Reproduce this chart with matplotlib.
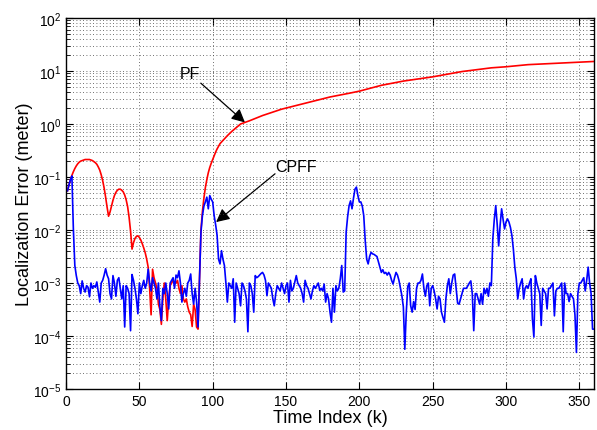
import numpy as np
import matplotlib
matplotlib.use("Agg")
import matplotlib.pyplot as plt
from matplotlib.patches import FancyArrowPatch

plt.rcParams['font.family'] = ['Liberation Sans', 'DejaVu Sans']
plt.rcParams['mathtext.fontset'] = 'custom'
plt.rcParams['mathtext.rm'] = 'Liberation Sans'

# CPFF error, log10(meter), one value per time index k = 1..360
cpff_log10 = [
    -1.26, -1.15, -1.05, -0.98, -1.98, -2.67, -2.86, -3.00, -3.05, -3.20,
    -2.96, -3.10, -3.17, -3.05, -3.08, -3.26, -3.00, -3.10, -3.05, -3.08,
    -2.98, -3.17, -3.36, -3.00, -2.95, -2.85, -2.73, -2.85, -2.92, -3.20,
    -3.30, -2.86, -3.00, -3.25, -2.95, -2.90, -3.10, -3.30, -3.05, -3.83,
    -3.05, -3.10, -3.20, -3.90, -2.84, -2.95, -3.10, -3.30, -3.58, -3.00,
    -3.20, -3.05, -2.95, -3.10, -3.00, -2.74, -3.00, -3.15, -2.90, -3.00,
    -3.10, -3.30, -3.00, -3.45, -3.71, -3.10, -3.20, -3.00, -3.20, -3.49,
    -3.00, -2.95, -2.90, -3.10, -2.85, -2.90, -2.77, -3.00, -3.36, -3.20,
    -3.10, -3.25, -3.00, -2.95, -2.83, -3.20, -3.40, -3.10, -3.35, -3.83,
    -2.92, -2.04, -1.73, -1.55, -1.47, -1.38, -1.60, -1.35, -1.42, -1.47,
    -1.73, -1.90, -2.10, -2.55, -2.64, -2.39, -2.55, -2.67, -3.00, -3.36,
    -3.00, -3.05, -3.10, -2.92, -3.74, -3.00, -3.10, -3.20, -3.43, -3.00,
    -3.05, -3.15, -3.30, -3.92, -3.00, -3.05, -3.20, -3.55, -2.86, -2.90,
    -2.88, -2.85, -2.82, -2.80, -2.85, -2.95, -3.24, -3.00, -3.05, -3.10,
    -3.30, -3.43, -3.20, -3.05, -3.10, -3.15, -3.00, -3.10, -3.20, -3.05,
    -3.00, -3.36, -2.95, -3.15, -3.10, -2.98, -2.86, -3.00, -3.05, -3.10,
    -3.20, -3.36, -2.95, -3.05, -3.10, -3.20, -3.30, -3.15, -3.05, -3.10,
    -3.05, -3.00, -3.14, -3.10, -3.15, -3.02, -3.36, -3.20, -3.30, -3.55,
    -3.74, -3.10, -3.55, -3.05, -3.15, -3.10, -2.92, -2.67, -3.17, -3.15,
    -2.04, -1.75, -1.54, -1.45, -1.60, -1.40, -1.23, -1.19, -1.35, -1.47,
    -1.47, -1.55, -1.73, -2.20, -2.55, -2.64, -2.50, -2.42, -2.45, -2.46,
    -2.48, -2.50, -2.60, -2.70, -2.80, -2.75, -2.82, -2.80, -2.85, -2.80,
    -2.85, -2.95, -3.02, -2.90, -2.80, -2.85, -2.95, -3.10, -3.24, -3.45,
    -4.25, -3.55, -3.07, -3.00, -3.43, -3.55, -3.35, -3.50, -3.10, -3.00,
    -3.00, -2.95, -2.83, -3.10, -3.25, -3.05, -3.00, -3.43, -3.10, -3.05,
    -3.15, -3.30, -3.49, -3.25, -3.30, -3.55, -3.65, -3.74, -3.30, -3.05,
    -2.92, -3.20, -3.00, -2.85, -2.83, -3.10, -3.38, -3.40, -3.30, -3.20,
    -3.10, -3.10, -3.10, -3.05, -3.00, -2.96, -3.20, -3.90, -3.20, -3.20,
    -3.30, -3.40, -3.20, -3.40, -3.10, -3.20, -3.10, -3.25, -3.00, -3.05,
    -2.17, -1.80, -1.54, -1.90, -2.30, -1.90, -1.60, -1.80, -1.98, -1.85,
    -1.79, -1.85, -1.95, -2.10, -2.36, -2.70, -2.92, -3.30, -3.10, -3.00,
    -2.92, -3.30, -3.10, -3.05, -3.10, -3.00, -2.92, -3.68, -4.02, -2.86,
    -3.00, -3.10, -3.20, -3.80, -3.10, -3.15, -3.20, -3.49, -3.10, -3.10,
    -3.05, -3.00, -3.62, -3.15, -3.10, -3.10, -3.05, -3.00, -3.92, -3.00,
    -3.20, -3.20, -3.35, -3.20, -3.25, -3.30, -3.60, -4.31, -3.20, -3.00,
    -3.00, -2.95, -2.90, -3.15, -2.95, -2.70, -3.00, -3.20, -3.87, -3.87,
]
cpff_k = np.arange(1, len(cpff_log10) + 1)

# PF error, log10(meter)
pf_k = list(range(1, 106)) + [107, 110, 113, 116, 119, 125, 134, 147, 160, 170,
                              180, 193, 200, 215, 230, 250, 270, 290, 300, 315,
                              330, 345, 360]
pf_log10 = [
    -1.26, -1.15, -1.05, -0.97, -0.90, -0.84, -0.79, -0.75, -0.72, -0.70,
    -0.69, -0.68, -0.67, -0.67, -0.67, -0.67, -0.68, -0.69, -0.71, -0.73,
    -0.76, -0.81, -0.87, -0.96, -1.07, -1.21, -1.38, -1.57, -1.74, -1.66,
    -1.55, -1.44, -1.35, -1.29, -1.25, -1.23, -1.23, -1.25, -1.28, -1.34,
    -1.43, -1.56, -1.76, -2.02, -2.36, -2.24, -2.16, -2.12, -2.11, -2.14,
    -2.19, -2.26, -2.34, -2.43, -2.55, -2.70, -3.10, -3.60, -2.74, -2.90,
    -3.00, -3.10, -3.40, -3.50, -3.78, -3.30, -3.00, -3.30, -3.71, -3.30,
    -3.05, -3.00, -2.95, -3.00, -3.00, -2.95, -3.10, -3.20, -3.05, -3.30,
    -3.36, -3.30, -3.45, -3.55, -3.60, -3.82, -3.40, -3.50, -3.83, -3.87,
    -2.90, -2.00, -1.65, -1.40, -1.20, -1.05, -0.92, -0.82, -0.74, -0.67,
    -0.60, -0.53, -0.47, -0.42, -0.37,
    -0.31, -0.22, -0.14, -0.07, 0.00, 0.06, 0.16, 0.28, 0.37, 0.44,
    0.51, 0.58, 0.62, 0.73, 0.81, 0.89, 0.99, 1.06, 1.08, 1.12,
    1.14, 1.16, 1.18,
]

fig = plt.figure(figsize=(5.97, 4.31), dpi=100)
ax = fig.add_axes([0.1106, 0.0951, 0.8844, 0.8608])

ax.semilogy(pf_k, 10.0 ** np.array(pf_log10), color='#ff0000', lw=1.2)
ax.semilogy(cpff_k, 10.0 ** np.array(cpff_log10), color='#0000ff', lw=1.2)

ax.set_xlim(0, 360)
ax.set_ylim(1e-5, 1e2)
ax.set_xticks(np.arange(0, 351, 50))

ax.grid(True, which='major', axis='both', color='0.25', linestyle=(0, (1, 3)), lw=0.6)
ax.grid(True, which='minor', axis='y', color='0.25', linestyle=(0, (1, 3)), lw=0.6)

ax.tick_params(which='both', direction='in', top=True, right=True, labelsize=10)
ax.tick_params(which='major', length=5)
ax.tick_params(which='minor', length=3)
for s in ax.spines.values():
    s.set_linewidth(1.0)

ax.set_xlabel('Time Index (k)', fontsize=13, labelpad=1)
ax.set_ylabel('Localization Error (meter)', fontsize=13, labelpad=0)

# arrows + labels
for tail, tip in [((91.9, 5.9), (122, 1.07)), ((142.5, 0.115), (102.3, 0.0141))]:
    ax.add_patch(FancyArrowPatch(tail, tip, arrowstyle='-|>', color='k', lw=0.9,
                                 mutation_scale=20, shrinkA=0, shrinkB=0))
ax.text(84.5, 8.9, 'PF', fontsize=11.5, ha='center', va='center')
ax.text(157, 0.16, 'CPFF', fontsize=11.5, ha='center', va='center')

fig.savefig('out.png', dpi=100)
